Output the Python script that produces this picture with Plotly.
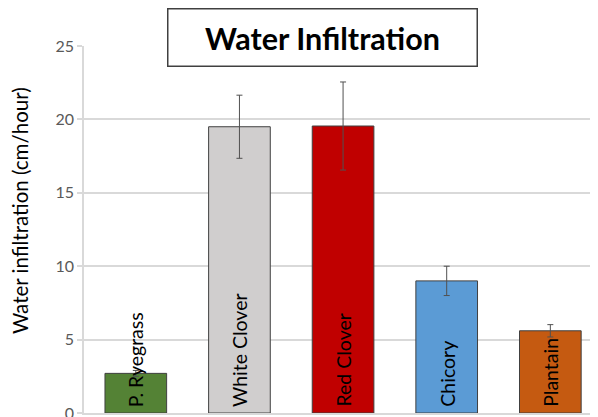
import plotly.graph_objects as go

categories = ["P. Ryegrass", "White Clover", "Red Clover", "Chicory", "Plantain"]
values = [2.7, 19.5, 19.55, 9.0, 5.6]
errors = [0.2, 2.15, 3.0, 1.0, 0.42]
colors = ["#548235", "#D0CECE", "#C00000", "#5B9BD5", "#C55A11"]
y_ticks = [0, 5, 10, 15, 20, 25]
y_title = "Water infiltration (cm/hour)"
chart_title = "Water Infiltration"

FONT = "Lato, Open Sans, sans-serif"

fig = go.Figure()
fig.add_trace(go.Bar(
    x=categories, y=values,
    marker=dict(color=colors, line=dict(color="#404040", width=1)),
    width=0.595,
    error_y=dict(type="data", array=errors, color="#505050", thickness=1, width=3),
    hoverinfo="skip",
))

for c in categories:
    fig.add_annotation(
        x=c, y=0, xref="x", yref="y", text=c, textangle=-90,
        showarrow=False, xanchor="center", yanchor="bottom", yshift=4,
        font=dict(family=FONT, size=19.5, color="#000000"),
    )

fig.add_annotation(
    x=(322 - 84) / 514, y=(413 - 38) / 367, xref="paper", yref="paper",
    text="<b>" + chart_title + "</b>", showarrow=False,
    xanchor="center", yanchor="middle",
    width=306, height=54, borderpad=1, borderwidth=1.5,
    bordercolor="#404040", bgcolor="#FFFFFF",
    font=dict(family=FONT, size=30.5, color="#000000"),
)

fig.add_annotation(
    x=(12 - 76) / 514, y=(405 - 203) / 367, xref="paper", yref="paper",
    text=y_title, textangle=-90, showarrow=False,
    xanchor="center", yanchor="middle",
    font=dict(family=FONT, size=20.5, color="#000000"),
)

fig.update_layout(
    width=598, height=417,
    margin=dict(l=76, r=8, t=38, b=12),
    paper_bgcolor="#FFFFFF", plot_bgcolor="#FFFFFF",
    showlegend=False,
    font=dict(family=FONT),
    xaxis=dict(
        range=[-0.5, 4.46], showticklabels=False, showgrid=False,
        showline=True, linecolor="#D9D9D9", linewidth=1.5, ticks="",
        fixedrange=True, automargin=False,
    ),
    yaxis=dict(
        range=[0, 25], tickvals=y_ticks, showgrid=True,
        gridcolor="#D9D9D9", gridwidth=1.5,
        showline=True, linecolor="#D9D9D9", linewidth=1.5,
        ticks="outside", ticklen=5, tickcolor="#D9D9D9", tickwidth=1.5,
        tickfont=dict(size=16, color="#595959"),
        zeroline=False, fixedrange=True, automargin=False,
    ),
)

fig.write_html("out.html")
